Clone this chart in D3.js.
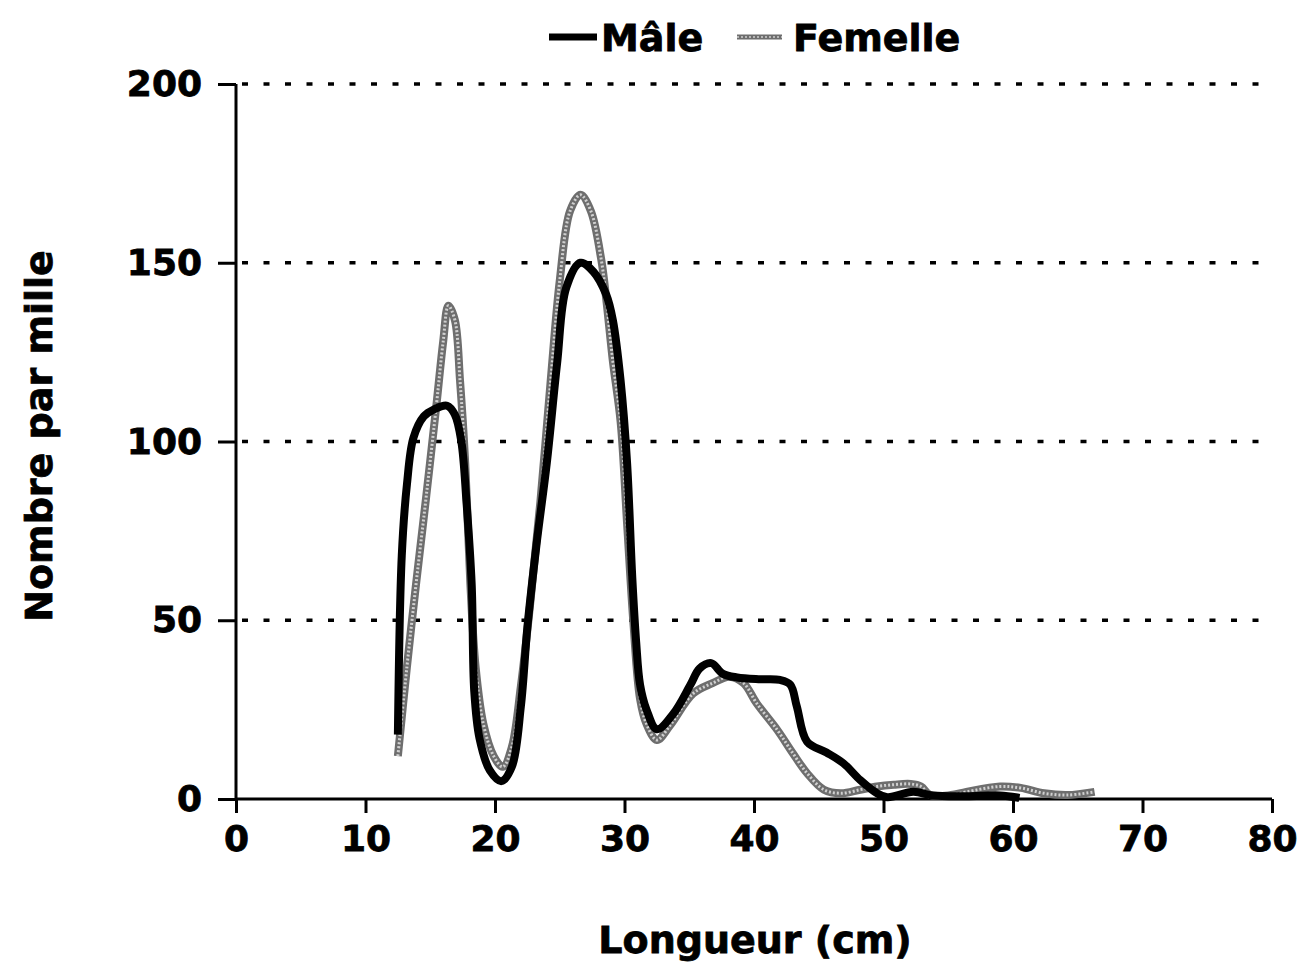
<!DOCTYPE html>
<html>
<head>
<meta charset="utf-8">
<script src="https://cdn.jsdelivr.net/npm/d3@7"></script>
<style>
	body { margin: 0; background: #fff; }
	text { font-family: "DejaVu Sans", "Liberation Sans", sans-serif; font-weight: bold; fill: #000; stroke: #000; stroke-width: 0.8px; }
</style>
</head>
<body>
<svg id="chart" width="1300" height="968"></svg>
<script>
// length (cm) / count per thousand
var maleLength = [12.5, 12.8, 13.2, 13.7, 14.5, 15.3, 16.3, 16.9, 17.4, 17.8, 18.2, 18.4, 18.8, 19.6, 20.5, 21.3, 22.0, 22.5, 23.2, 24.0, 24.8, 25.5, 26.6, 27.6, 28.6, 29.1, 29.7, 30.2, 30.6, 30.9, 31.2, 31.7, 32.5, 33.8, 35.1, 35.8, 36.7, 37.6, 38.7, 40.5, 42.0, 42.8, 43.3, 44.1, 45.6, 46.9, 48.2, 49.5, 50.3, 52.3, 53.8, 56.4, 59.0, 60.5];
var maleCount = [18, 68, 88, 101, 107, 109, 110, 107.5, 100, 83, 60, 30, 17, 8, 5, 9, 26, 48, 71, 94, 122, 143, 150, 147.5, 141, 134, 117, 94, 62, 44, 32, 25, 19.5, 24, 32, 36.5, 38, 35, 34, 33.5, 33.3, 32, 26, 16, 13, 10, 5.3, 1.6, 0.5, 2, 1, 0.8, 1, 0.3];

var femaleLength = [12.5, 13.2, 13.9, 14.7, 15.5, 16.0, 16.4, 16.9, 17.3, 17.7, 18.1, 18.5, 19.1, 19.9, 20.6, 21.3, 22.0, 22.7, 23.5, 24.3, 25.0, 25.8, 26.6, 27.4, 28.2, 28.6, 29.1, 29.7, 30.2, 30.7, 31.2, 31.7, 32.5, 33.5, 35.3, 36.8, 38.1, 39.2, 40.2, 41.8, 43.0, 44.1, 45.4, 46.7, 48.2, 49.5, 50.8, 52.1, 52.9, 53.6, 55.2, 56.4, 59.0, 60.6, 62.4, 64.2, 66.3];
var femaleCount = [12, 37, 60, 85, 111, 128, 138, 134, 117, 94, 60, 37, 21, 12, 9, 14.5, 31.6, 54, 83, 117, 145, 164.5, 169, 164.5, 151, 139.5, 122.5, 105.5, 77, 48.6, 28, 21, 16.5, 20.5, 29.5, 32.4, 34.2, 32.4, 26.8, 19.3, 12.8, 7.2, 2.6, 1.6, 2.6, 3.5, 4, 4.2, 3.5, 1.1, 1.1, 2, 3.5, 3.1, 1.6, 1.1, 2];

var xTicks = [0, 10, 20, 30, 40, 50, 60, 70, 80];
var yTicks = [0, 50, 100, 150, 200];
var seriesNames = ['Mâle', 'Femelle'];

var svg = d3.select('#chart'),
	margin = {left: 236, top: 84, right: 28, bottom: 169},
	width = 1300 - margin.left - margin.right,
	height = 968 - margin.top - margin.bottom;

var x = d3.scaleLinear().domain([0, 80]).range([0, width]);
var y = d3.scaleLinear().domain([0, 200]).range([height, 0]);

var g = svg.append('g').attr('transform', 'translate(' + margin.left + ',' + margin.top + ')');

// dotted gridlines
g.selectAll('.grid').data(yTicks.filter(function(d) { return d > 0; }))
	.enter().append('line')
	.attr('x1', 6).attr('x2', width)
	.attr('y1', function(d) { return y(d); })
	.attr('y2', function(d) { return y(d); })
	.attr('stroke', '#000').attr('stroke-width', 3.5)
	.attr('stroke-dasharray', '6,15.5');

// axes
var yAxis = g.append('g').call(d3.axisLeft(y).tickValues(yTicks).tickSize(18).tickPadding(16));
var xAxis = g.append('g').attr('transform', 'translate(0,' + height + ')')
	.call(d3.axisBottom(x).tickValues(xTicks).tickSize(14).tickPadding(12));

[xAxis, yAxis].forEach(function(ax) {
	ax.select('.domain').attr('stroke', '#000').attr('stroke-width', 3);
	ax.selectAll('.tick line').attr('stroke', '#000').attr('stroke-width', 3);
	ax.selectAll('.tick text').style('font-size', '36px').style('font-family', '"DejaVu Sans", sans-serif').style('font-weight', 'bold');
});
// no outer ticks on the domain lines
xAxis.select('.domain').attr('d', 'M0,0H' + width);
yAxis.select('.domain').attr('d', 'M0,' + height + 'V0');

var line = d3.line()
	.x(function(d) { return x(d[0]); })
	.y(function(d) { return y(d[1]); })
	.curve(d3.curveCatmullRom.alpha(0.5));

var female = d3.zip(femaleLength, femaleCount);
var male = d3.zip(maleLength, maleCount);

// female: stippled grey line
g.append('path').datum(female).attr('d', line)
	.attr('fill', 'none').attr('stroke', '#6e6e6e').attr('stroke-width', 8);
g.append('path').datum(female).attr('d', line)
	.attr('fill', 'none').attr('stroke', '#d0d0d0').attr('stroke-width', 3)
	.attr('stroke-dasharray', '2,2');

g.append('path').datum(male).attr('d', line)
	.attr('fill', 'none').attr('stroke', '#000').attr('stroke-width', 8)
	.attr('stroke-linejoin', 'round');

// legend
var legend = svg.append('g');
legend.append('line').attr('x1', 549).attr('x2', 597).attr('y1', 37).attr('y2', 37)
	.attr('stroke', '#000').attr('stroke-width', 7);
legend.append('text').attr('x', 601).attr('y', 51).style('font-size', '38px').text(seriesNames[0]);
legend.append('line').attr('x1', 737).attr('x2', 782).attr('y1', 37).attr('y2', 37)
	.attr('stroke', '#6e6e6e').attr('stroke-width', 5);
legend.append('line').attr('x1', 737).attr('x2', 782).attr('y1', 37).attr('y2', 37)
	.attr('stroke', '#d0d0d0').attr('stroke-width', 1.5).attr('stroke-dasharray', '2,2');
legend.append('text').attr('x', 793).attr('y', 51).style('font-size', '38px').text(seriesNames[1]);

// axis titles
svg.append('text').attr('x', 755).attr('y', 953)
	.attr('text-anchor', 'middle').style('font-size', '38px').text('Longueur (cm)');
svg.append('text').attr('transform', 'translate(52,436) rotate(-90)')
	.attr('text-anchor', 'middle').style('font-size', '38px').text('Nombre par mille');
</script>
</body>
</html>
